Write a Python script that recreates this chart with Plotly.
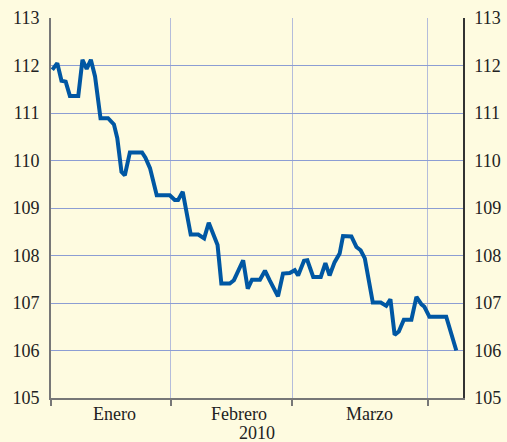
import plotly.graph_objects as go

# x: position in days from the start of the series
day = [0.3, 1.5, 2.5, 3.5, 4.5, 6.5, 7.5, 8.5, 9.5, 10.5, 11.8, 13.6, 15.0, 15.8, 16.8,
       17.6, 18.8, 21.7, 22.5, 23.6, 25.2, 28.3, 29.5, 30.3, 31.4, 33.3, 35.1, 36.5,
       37.6, 38.6, 39.7, 40.6, 42.6, 43.6, 45.8, 46.9, 47.9, 49.8, 51.0, 52.1, 53.3,
       54.1, 55.3, 56.9, 58.1, 58.9, 60.3, 61.1, 62.5, 64.3, 65.4, 66.4, 67.6, 68.8,
       69.6, 71.6, 72.8, 73.8, 74.8, 76.7, 78.6, 79.9, 80.9, 81.9, 82.9, 84.1, 85.9,
       87.1, 88.3, 89.0, 90.2, 94.2, 96.6]
value = [111.91, 112.05, 111.68, 111.66, 111.36, 111.36, 112.12, 111.93, 112.12, 111.77,
         110.89, 110.89, 110.76, 110.47, 109.76, 109.69, 110.17, 110.17, 110.06, 109.84,
         109.27, 109.27, 109.17, 109.17, 109.34, 108.44, 108.44, 108.36, 108.69, 108.46,
         108.22, 107.41, 107.41, 107.48, 107.90, 107.30, 107.49, 107.49, 107.68, 107.48,
         107.30, 107.14, 107.62, 107.63, 107.69, 107.58, 107.89, 107.90, 107.55, 107.55,
         107.84, 107.58, 107.86, 108.04, 108.41, 108.40, 108.18, 108.11, 107.94, 107.01,
         107.01, 106.94, 107.08, 106.33, 106.40, 106.65, 106.65, 107.13, 106.97, 106.92,
         106.71, 106.71, 106.00]

month_bounds = [0, 28.6, 57.5, 89.8]
month_labels = ["Enero", "Febrero", "Marzo"]
month_label_pos = [15.2, 44.9, 75.8]
year_label = "2010"
y_ticks = [105, 106, 107, 108, 109, 110, 111, 112, 113]

BG = "#FEFBE0"
FONT = dict(family="Liberation Serif, Times New Roman, serif", size=18, color="#222222")

fig = go.Figure()
fig.add_trace(go.Scatter(x=day, y=value, mode="lines",
                         line=dict(color="#0057A3", width=4), hoverinfo="skip",
                         showlegend=False))
fig.add_trace(go.Scatter(x=day, y=value, mode="lines", yaxis="y2",
                         line=dict(color="rgba(0,0,0,0)", width=0), hoverinfo="skip",
                         showlegend=False))

for lab, pos in zip(month_labels, month_label_pos):
    fig.add_annotation(x=pos, y=0, xref="x", yref="paper", text=lab, showarrow=False,
                       yanchor="middle", yshift=-16, font=FONT)
fig.add_annotation(x=0.5, y=0, xref="paper", yref="paper", text=year_label,
                   showarrow=False, yanchor="middle", yshift=-35, font=FONT)

fig.update_layout(
    width=507, height=442,
    margin=dict(l=51, r=44, t=18, b=44, autoexpand=False),
    paper_bgcolor=BG, plot_bgcolor=BG,
    font=FONT,
    xaxis=dict(range=[0, 98.2], tickvals=month_bounds, ticktext=["", "", "", ""],
               showgrid=True, gridcolor="#B4BCDB", gridwidth=1,
               showline=True, linecolor="#777777", linewidth=2,
               ticks="outside", ticklen=6, tickcolor="#777777", tickwidth=1.5,
               zeroline=False),
    yaxis=dict(range=[105, 113], tickvals=y_ticks, showgrid=True, gridcolor="#8C9DD3",
               gridwidth=1, showline=True, linecolor="#777777", linewidth=2,
               ticks="", ticklabelstandoff=6, zeroline=False),
    yaxis2=dict(range=[105, 113], tickvals=y_ticks, overlaying="y", side="right",
                showgrid=False, showline=True, linecolor="#333333", linewidth=1.5,
                ticks="", ticklabelstandoff=6, zeroline=False),
)

fig.write_html("out.html", config={"displayModeBar": False},
               post_script="document.body.style.margin='0';document.body.style.padding='0';")
